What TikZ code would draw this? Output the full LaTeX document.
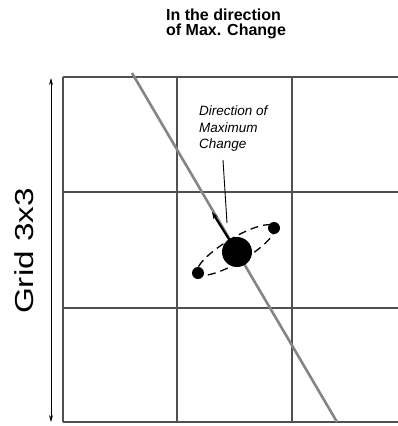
\documentclass[tikz,border=0pt]{standalone}
\usepackage{fontspec}
\setmainfont{Liberation Sans}
\usetikzlibrary{arrows.meta}
\definecolor{gridc}{HTML}{505050}
\definecolor{diagc}{HTML}{858585}
\tikzset{
  gridline/.style={draw=gridc, line width=1.6pt},
  diagline/.style={draw=diagc, line width=2.6pt},
  lbl/.style={inner sep=0pt, align=left},
}
\begin{document}
\begin{tikzpicture}[x=1pt,y=-1pt]
\useasboundingbox (0,0) rectangle (398,426);
% grid
\draw[gridline] (63,77) -- (398,77);
\draw[gridline] (63,192) -- (398,192);
\draw[gridline] (63,308) -- (398,308);
\draw[gridline] (63,422) -- (398,422);
\draw[gridline] (63,77) -- (63,422);
\draw[gridline] (177,77) -- (177,422);
\draw[gridline] (292,77) -- (292,422);
% diagonal
\coordinate (dtop) at (132,73);
\coordinate (dbot) at (337,422);
\draw[diagline] (dtop) -- (dbot);
% ellipse
\draw[draw=black, line width=1.3pt, dash pattern=on 8pt off 5pt, rotate around={31:(236,250)}] (236,250) ellipse [x radius=45, y radius=12];
% dots
\node[circle, fill=black, minimum size=30pt, inner sep=0pt] (big) at (237,252) {};
\node[circle, fill=black, minimum size=12pt, inner sep=0pt] (s1) at (274,228) {};
\node[circle, fill=black, minimum size=12pt, inner sep=0pt] (s2) at (198,273) {};
% arrow
\coordinate (atip) at (212,212);
\draw[line width=2.2pt, -{Stealth[length=7pt,width=5pt]}] (big.center) -- (atip);
% labels
\node[lbl, anchor=west, font=\fontsize{13.5}{16.5}\selectfont\itshape] (dir) at (199,129) {Direction of\\Maximum\\Change};
\coordinate (cend) at (227,223);
\draw[black, line width=0.9pt] (223,160) -- (cend);
\node[lbl, anchor=west, font=\fontsize{16}{15}\selectfont\bfseries] (title) at (166,24) {In the direction\\of Max. Change};
% side arrow
\coordinate (at) at (51,78);
\coordinate (ab) at (51,422);
\draw[black, line width=0.8pt, {Stealth[length=7pt,width=4pt]}-{Stealth[length=7pt,width=4pt]}] (at) -- (ab);
\node[lbl, rotate=90, font=\fontsize{26}{30}\selectfont] (grid) at (24,251) {\scalebox{1.28}[1]{Grid 3x3}};
\end{tikzpicture}
\end{document}
